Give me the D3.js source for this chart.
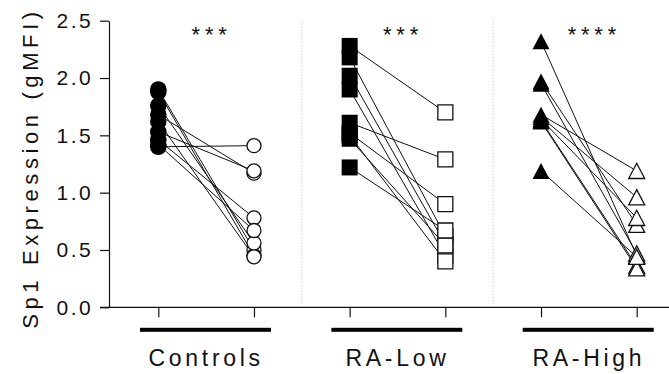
<!DOCTYPE html>
<html>
<head>
<meta charset="utf-8">
<script src="https://cdn.jsdelivr.net/npm/d3@7"></script>
<style>
  html, body { margin: 0; padding: 0; background: #fff; }
  svg { display: block; font-family: "Liberation Sans", Arial, sans-serif; }
</style>
</head>
<body>
<svg id="chart" width="669" height="374"></svg>
<script>
// Sp1 expression (gMFI) before/after, paired per subject
const groups = ["Controls", "RA-Low", "RA-High"];
const significance = ["***", "***", "****"];
const yTicks = [0, 0.5, 1.0, 1.5, 2.0, 2.5];
const yTitle = "Sp1 Expression (gMFI)";

const controlsBefore = [1.90, 1.88, 1.76, 1.68, 1.62, 1.53, 1.46, 1.42, 1.40];
const controlsAfter  = [0.50, 0.45, 0.56, 1.17, 0.44, 1.19, 0.78, 0.67, 1.41];

const raLowBefore = [2.28, 2.18, 2.02, 1.90, 1.61, 1.52, 1.50, 1.47, 1.22];
const raLowAfter  = [1.70, 0.62, 0.55, 0.45, 1.29, 0.90, 0.40, 0.54, 0.67];

const raHighBefore = [2.32, 1.97, 1.95, 1.68, 1.66, 1.64, 1.63, 1.62, 1.19];
const raHighAfter  = [0.45, 0.72, 0.47, 1.19, 0.96, 0.78, 0.36, 0.34, 0.44];

const seriesBefore = [controlsBefore, raLowBefore, raHighBefore];
const seriesAfter = [controlsAfter, raLowAfter, raHighAfter];
const markerShapes = ["circle", "square", "triangle"];

const svg = d3.select("#chart");
const ink = "#111";

// Scales: six evenly spaced columns (before/after for each group)
const x = d3.scaleLinear().domain([0, 5]).range([158.3, 636.7]);
const y = d3.scaleLinear().domain([0, 2.5]).range([307.3, 20.7]);
const colStep = x(1) - x(0);

// Dotted separators between groups
[1.5, 3.5].forEach(c => {
  svg.append("line")
    .attr("x1", x(c)).attr("x2", x(c))
    .attr("y1", y(2.5)).attr("y2", y(0) - 2)
    .attr("stroke", "#bbb").attr("stroke-width", 1)
    .attr("stroke-dasharray", "1,2");
});

// Y axis
const yAxis = d3.axisLeft(y)
  .tickValues(yTicks)
  .tickFormat(d3.format(".1f"))
  .tickSize(9)
  .tickSizeOuter(0)
  .tickPadding(7);
const gy = svg.append("g").attr("transform", "translate(109,0)").call(yAxis);
gy.select(".domain").attr("stroke", ink).attr("stroke-width", 1.2);
gy.selectAll(".tick line").attr("stroke", ink).attr("stroke-width", 1.2);
gy.selectAll(".tick text")
  .attr("fill", ink)
  .style("font-size", "21px")
  .style("letter-spacing", "2.4px");

// X axis: baseline across the plot with a tick under each column
svg.append("line")
  .attr("x1", 100).attr("x2", 669)
  .attr("y1", y(0)).attr("y2", y(0))
  .attr("stroke", ink).attr("stroke-width", 1.2);
const xAxis = d3.axisBottom(x)
  .tickValues(d3.range(6))
  .tickFormat("")
  .tickSize(10)
  .tickSizeOuter(0);
const gx = svg.append("g").attr("transform", `translate(0,${y(0)})`).call(xAxis);
gx.select(".domain").remove();
gx.selectAll(".tick line").attr("stroke", ink).attr("stroke-width", 1.2);

// Y axis title
svg.append("text")
  .attr("transform", "translate(37.5,168) rotate(-90)")
  .attr("text-anchor", "middle")
  .attr("fill", ink)
  .style("font-size", "22px")
  .style("letter-spacing", "4.6px")
  .text(yTitle);

// Group bars and labels
groups.forEach((g, i) => {
  const x0 = x(2 * i), x1 = x(2 * i + 1);
  const cx = (x0 + x1) / 2;
  svg.append("rect")
    .attr("x", x0 - 18.3).attr("width", (x1 - x0) + 35.3)
    .attr("y", 327.8).attr("height", 4)
    .attr("fill", "#000");
  svg.append("text")
    .attr("x", cx).attr("y", 365.7)
    .attr("text-anchor", "middle")
    .attr("fill", ink)
    .style("font-size", "23px")
    .style("letter-spacing", "3.7px")
    .text(g);
  svg.append("text")
    .attr("x", cx + 5.5).attr("y", 42)
    .attr("text-anchor", "middle")
    .attr("fill", ink)
    .style("font-size", "22px")
    .style("letter-spacing", "4.8px")
    .text(significance[i]);
});

// Paired lines
const lines = svg.append("g");
groups.forEach((g, i) => {
  seriesBefore[i].forEach((v, j) => {
    lines.append("line")
      .attr("x1", x(2 * i)).attr("y1", y(v))
      .attr("x2", x(2 * i + 1)).attr("y2", y(seriesAfter[i][j]))
      .attr("stroke", ink).attr("stroke-width", 1);
  });
});

// Marker shapes
function markerPath(shape, filled) {
  const p = d3.path();
  if (shape === "circle") {
    const r = filled ? 8.3 : 7;
    p.arc(0, 0, r, 0, 2 * Math.PI);
  } else if (shape === "square") {
    const h = filled ? 8 : 7.5;
    p.rect(-h, -h, 2 * h, 2 * h);
  } else {
    const w = filled ? 8.5 : 8.0, h = filled ? 8 : 7.6;
    p.moveTo(0, -h); p.lineTo(w, h); p.lineTo(-w, h); p.closePath();
  }
  return p.toString();
}

const marks = svg.append("g");
groups.forEach((g, i) => {
  const shape = markerShapes[i];
  marks.selectAll(null)
    .data(seriesAfter[i])
    .join("path")
    .attr("transform", d => `translate(${x(2 * i + 1)},${y(d)})`)
    .attr("d", markerPath(shape, false))
    .attr("fill", "#fff").attr("stroke", ink).attr("stroke-width", 1.3);
  marks.selectAll(null)
    .data(seriesBefore[i])
    .join("path")
    .attr("transform", d => `translate(${x(2 * i)},${y(d)})`)
    .attr("d", markerPath(shape, true))
    .attr("fill", "#000");
});
</script>
</body>
</html>
